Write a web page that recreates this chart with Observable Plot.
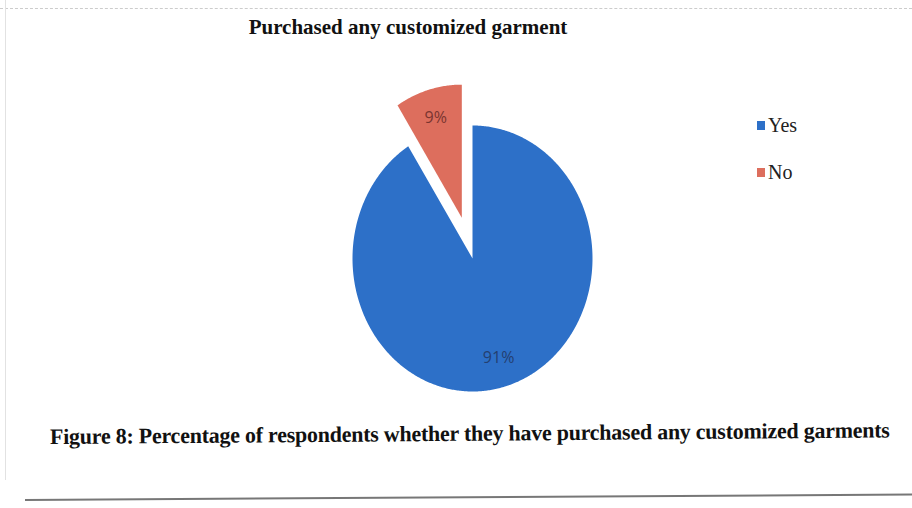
<!DOCTYPE html>
<html>
<head>
<meta charset="utf-8">
<script src="https://cdn.jsdelivr.net/npm/d3@7"></script>
<script src="https://cdn.jsdelivr.net/npm/@observablehq/plot@0.6"></script>
<style>
  html, body { margin:0; padding:0; background:#fff; }
  body { width:912px; height:508px; position:relative; overflow:hidden; font-family:"Liberation Serif", "Times New Roman", serif; }
  #title { position:absolute; left:0; top:0; width:816px; height:50px; text-align:center; font-weight:bold; font-size:21px; line-height:54px; color:#111; }
  #chart { position:absolute; left:0; top:50px; }
  #legend { position:absolute; left:757px; top:113px; font-size:20px; color:#222; }
  #legend .item { display:flex; align-items:center; height:24px; margin-bottom:23px; }
  #legend .sw { width:8px; height:9px; margin-right:3px; }
  #caption { position:absolute; left:50px; top:424px; font-weight:bold; font-size:22px; color:#111; white-space:nowrap; transform:rotate(-0.45deg); transform-origin:left center; letter-spacing:-0.25px; }
  #topline { position:absolute; left:0; top:8px; width:912px; border-top:1px dashed #ccc; }
  #leftline { position:absolute; left:5px; top:0; height:480px; border-left:1px solid #e2e2e2; }
  #bottomline { position:absolute; left:25px; top:499px; width:900px; border-top:2px solid #777; transform:rotate(-0.35deg); transform-origin:left center; }
</style>
</head>
<body>
<div id="topline"></div>
<div id="leftline"></div>
<div id="title"></div>
<div id="chart"></div>
<div id="legend"></div>
<div id="caption"></div>
<div id="bottomline"></div>
<script>
// ---- data ----
const categories = ["Yes", "No"];
const values = [91, 9];
const labels = ["91%", "9%"];
const colors = ["#2d70c8", "#dd6e5d"];
const labelColors = ["#243f70", "#7a3530"];
const exploded = [0, 0.32];
const titleText = "Purchased any customized garment";
const captionText = "Figure 8: Percentage of respondents whether they have purchased any customized garments";

document.getElementById("title").textContent = titleText;
document.getElementById("caption").textContent = captionText;
const legend = document.getElementById("legend");
categories.forEach((c, i) => {
  const it = document.createElement("div"); it.className = "item";
  const sw = document.createElement("div"); sw.className = "sw"; sw.style.background = colors[i];
  const t = document.createElement("span"); t.textContent = c;
  it.appendChild(sw); it.appendChild(t); legend.appendChild(it);
});

// ---- pie geometry in data space (unit radius, y up) ----
const arcs = d3.pie().sort(null)(values);
const poly = [];
const labelPts = [];
arcs.forEach((a, i) => {
  const mid = (a.startAngle + a.endAngle) / 2;
  const ox = exploded[i] * Math.sin(mid), oy = exploded[i] * Math.cos(mid);
  poly.push({k: categories[i], x: ox, y: oy});
  const n = Math.max(2, Math.ceil((a.endAngle - a.startAngle) / 0.01));
  for (let j = 0; j <= n; j++) {
    const t = a.startAngle + (a.endAngle - a.startAngle) * j / n;
    poly.push({k: categories[i], x: ox + Math.sin(t), y: oy + Math.cos(t)});
  }
  poly.push({k: categories[i], x: ox, y: oy});
  const r = 0.78;
  labelPts.push({k: categories[i], label: labels[i], x: ox + r * Math.sin(mid), y: oy + r * Math.cos(mid), c: labelColors[i]});
});

const plot = Plot.plot({
  width: 912,
  height: 360,
  margin: 0,
  x: {domain: [-1, 1], range: [352, 592], axis: null},
  y: {domain: [-1, 1], range: [341, 75], axis: null},
  color: {domain: categories, range: colors},
  marks: [
    Plot.line(poly, {x: "x", y: "y", z: "k", fill: "k", stroke: null, curve: "linear"}),
    Plot.text(labelPts, {x: "x", y: "y", text: "label", fill: "c", fontSize: 16, fontFamily: "Open Sans, sans-serif"})
  ]
});
document.getElementById("chart").appendChild(plot);
</script>
</body>
</html>
